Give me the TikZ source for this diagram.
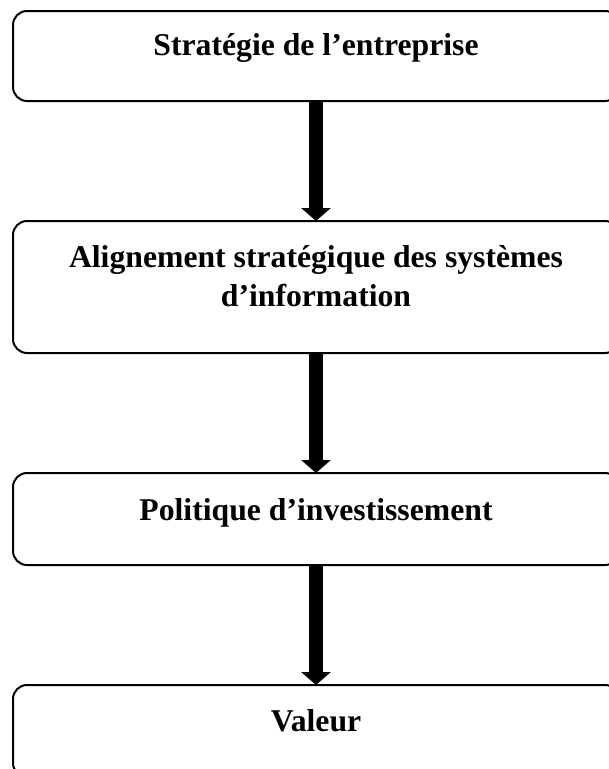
\documentclass[tikz,border=0pt]{standalone}
\usepackage{fontspec}
\setmainfont{Liberation Serif}
\usetikzlibrary{arrows.meta}
\begin{document}
\begin{tikzpicture}[x=1pt,y=1pt,
  stage/.style={draw=black, line width=2pt, rounded corners=14pt,
    minimum width=606pt, inner sep=0pt, outer sep=0pt, anchor=north west},
  caption/.style={font=\bfseries\fontsize{31.7}{39.5}\selectfont,
    align=center, anchor=base, inner sep=0pt},
  flow/.style={line width=14pt, -{Triangle[width=29pt,length=13pt]}}]
\useasboundingbox (0,0) rectangle (609,-769);
\clip (0,0) rectangle (609,-769);

% the four stages
\node[stage, minimum height=90pt]  (s1) at (13,-11)  {};
\node[stage, minimum height=132pt] (s2) at (13,-221) {};
\node[stage, minimum height=92pt]  (s3) at (13,-473) {};
\node[stage, minimum height=92pt]  (s4) at (13,-685) {};

% stage titles (the base anchor of a two-line title is its last line)
\node[caption] (t1) at ([yshift=-44pt]s1.north) {Stratégie de l’entreprise};
\node[caption] (t2) at ([yshift=-85.5pt]s2.north) {Alignement stratégique des systèmes\\d’information};
\node[caption] (t3) at ([yshift=-47pt]s3.north) {Politique d’investissement};
\node[caption] (t4) at ([yshift=-46pt]s4.north) {Valeur};

% thick downward arrows
\draw[flow] (s1.south) -- (s2.north);
\draw[flow] (s2.south) -- (s3.north);
\draw[flow] (s3.south) -- (s4.north);
\end{tikzpicture}
\end{document}
